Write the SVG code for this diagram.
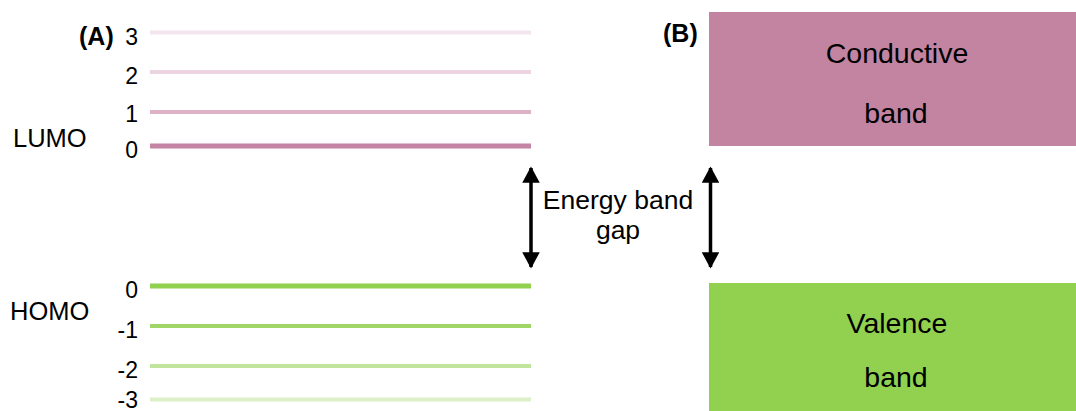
<svg xmlns="http://www.w3.org/2000/svg" width="1076" height="411" viewBox="0 0 1076 411">
<style>
text{font-family:"Liberation Sans",Arial,sans-serif;fill:#000}
.lbl{font-size:23px;text-anchor:end}
.side{font-size:25.5px}
.gap{font-size:26.5px;text-anchor:middle}
.box{font-size:28.5px;text-anchor:middle}
.bold{font-weight:bold;font-size:25px}
.lvl{stroke-width:4;fill:none}
.arr{stroke:#000;stroke-width:3.5;fill:none}
</style>
<defs>
<marker id="ah" markerWidth="5" markerHeight="5" refX="4.2" refY="2.5" orient="auto-start-reverse" markerUnits="strokeWidth" viewBox="0 0 5 5">
<path d="M0,0 L4.6,2.5 L0,5 Z" fill="#000"/>
</marker>
</defs>
<rect width="1076" height="411" fill="#fff"/>
<g id="panelA">
<text class="bold" x="79" y="45">(A)</text>
<g id="lumo">
<text class="side" x="13" y="147">LUMO</text>
<line class="lvl" x1="150" y1="32.5" x2="531" y2="32.5" stroke="#f3e5ed"/>
<text class="lbl" x="138" y="45">3</text>
<line class="lvl" x1="150" y1="72" x2="531" y2="72" stroke="#ebd4e0"/>
<text class="lbl" x="138" y="83.5">2</text>
<line class="lvl" x1="150" y1="112" x2="531" y2="112" stroke="#ddb2c7"/>
<text class="lbl" x="138" y="121.5">1</text>
<line x1="150" y1="146" x2="531" y2="146" stroke="#c484a3" stroke-width="5"/>
<text class="lbl" x="138" y="157.5">0</text>
</g>
<g id="homo">
<text class="side" x="10" y="320">HOMO</text>
<line x1="150" y1="286" x2="531" y2="286" stroke="#92d050" stroke-width="5"/>
<text class="lbl" x="138" y="298">0</text>
<line class="lvl" x1="150" y1="326" x2="531" y2="326" stroke="#a0d667"/>
<text class="lbl" x="138" y="337.5">-1</text>
<line class="lvl" x1="150" y1="366" x2="531" y2="366" stroke="#c2e59d"/>
<text class="lbl" x="138" y="377.5">-2</text>
<line class="lvl" x1="150" y1="399.5" x2="531" y2="399.5" stroke="#dbf0c7"/>
<text class="lbl" x="138" y="407.5">-3</text>
</g>
</g>
<g id="gapLabel">
<text class="gap" x="618" y="209">Energy band</text>
<text class="gap" x="618" y="239">gap</text>
</g>
<g id="panelB">
<text class="bold" x="663" y="42">(B)</text>
<g id="conductive">
<rect x="709" y="12" width="367" height="134" fill="#c384a2"/>
<text class="box" x="897" y="63">Conductive</text>
<text class="box" x="896" y="122.5">band</text>
</g>
<g id="valence">
<rect x="709" y="283" width="367" height="128" fill="#92d050"/>
<text class="box" x="897" y="333">Valence</text>
<text class="box" x="896" y="386.5">band</text>
</g>
</g>
<g id="connectors">
<line class="arr" x1="531" y1="168" x2="531" y2="267" marker-start="url(#ah)" marker-end="url(#ah)"/>
<line class="arr" x1="710.5" y1="168" x2="710.5" y2="267" marker-start="url(#ah)" marker-end="url(#ah)"/>
</g>
</svg>
